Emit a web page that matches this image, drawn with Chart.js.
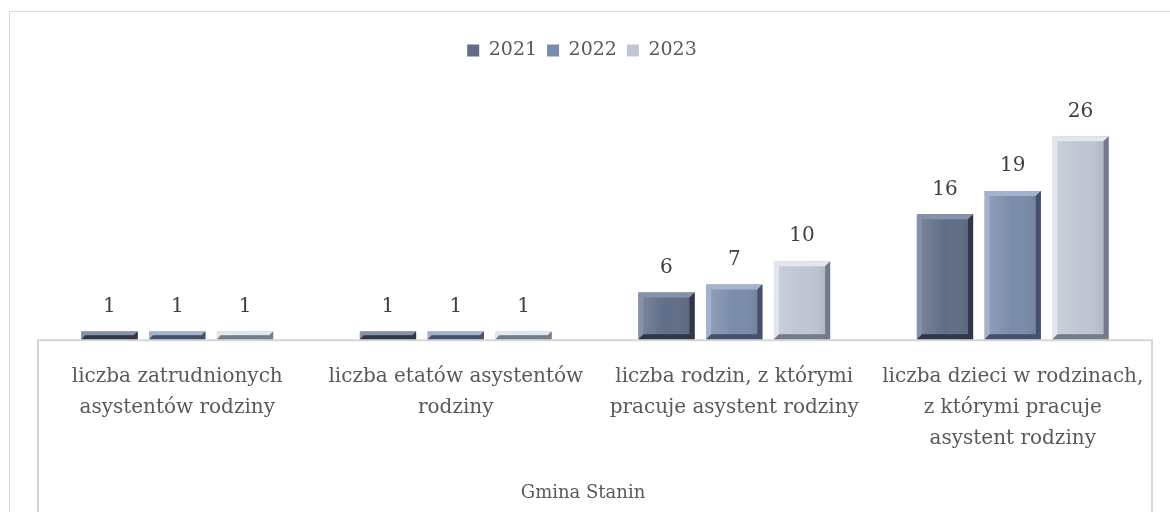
<!DOCTYPE html>
<html>
<head>
<meta charset="utf-8">
<script src="https://cdn.jsdelivr.net/npm/chart.js@4.4.1/dist/chart.umd.min.js"></script>
<style>
    html, body { margin: 0; padding: 0; background: #ffffff; }
    #wrap { width: 1170px; height: 512px; }
</style>
</head>
<body>
<div id="wrap"><canvas id="chart" width="1170" height="512"></canvas></div>
<script>

/* =========================
   DATA
========================= */

const categories = [
    ["liczba zatrudnionych", "asystentów rodziny"],
    ["liczba etatów asystentów", "rodziny"],
    ["liczba rodzin, z którymi", "pracuje asystent rodziny"],
    ["liczba dzieci w rodzinach,", "z którymi pracuje", "asystent rodziny"]
];

const years = ["2021", "2022", "2023"];

const values2021 = [1, 1, 6, 16];
const values2022 = [1, 1, 7, 19];
const values2023 = [1, 1, 10, 26];

const groupTitle = "Gmina Stanin";

/* =========================
   STYLE
========================= */

const FONT = "'DejaVu Serif', 'Liberation Serif', serif";
const TEXT = "#595959";

const barColors = ["#5f6d87", "#7a8cab", "#c0c6d3"];
const lightEdge = ["#8592aa", "#a3b3cf", "#e2e6ee"];
const darkEdge = ["#2f3746", "#45506a", "#727a8b"];

/* =========================
   PLUGINS
========================= */

const framePlugin = {
    id: "frame",
    beforeDraw(chart) {
        const { ctx, chartArea, width, height } = chart;
        ctx.save();
        ctx.strokeStyle = "#d9d9d9";
        ctx.lineWidth = 1;
        ctx.beginPath();
        ctx.moveTo(9.5, height);
        ctx.lineTo(9.5, 11.5);
        ctx.lineTo(width, 11.5);
        ctx.stroke();

        ctx.lineWidth = 2;
        ctx.strokeStyle = "#d6d6d6";
        ctx.beginPath();
        ctx.moveTo(chartArea.left, height);
        ctx.lineTo(chartArea.left, chartArea.bottom + 1);
        ctx.lineTo(chartArea.right, chartArea.bottom + 1);
        ctx.lineTo(chartArea.right, height);
        ctx.stroke();
        ctx.restore();
    }
};

// legend in the picture is centred on the full width, shift it a bit left
const legendShiftPlugin = {
    id: "legendShift",
    afterLayout(chart) {
        if (!chart.legend) return;
        chart.legend.left -= 13;
        chart.legend.right -= 13;
    }
};

const bevelPlugin = {
    id: "bevel",
    afterDatasetsDraw(chart) {
        const ctx = chart.ctx;
        ctx.save();
        chart.data.datasets.forEach((ds, di) => {
            const meta = chart.getDatasetMeta(di);
            meta.data.forEach(bar => {
                const l = bar.x - bar.width / 2;
                const r = bar.x + bar.width / 2;
                const t = bar.y;
                const b = bar.base;
                const h = b - t;
                const e = Math.min(5, h / 2);

                const g = ctx.createLinearGradient(l, 0, r, 0);
                g.addColorStop(0, "rgba(255,255,255,0.18)");
                g.addColorStop(0.5, "rgba(255,255,255,0)");
                g.addColorStop(1, "rgba(0,0,0,0.12)");
                ctx.fillStyle = g;
                ctx.fillRect(l, t, r - l, h);

                // top
                ctx.fillStyle = lightEdge[di];
                ctx.beginPath();
                ctx.moveTo(l, t); ctx.lineTo(r, t);
                ctx.lineTo(r - e, t + e); ctx.lineTo(l + e, t + e);
                ctx.closePath(); ctx.fill();

                // left
                ctx.beginPath();
                ctx.moveTo(l, t); ctx.lineTo(l + e, t + e);
                ctx.lineTo(l + e, b - e); ctx.lineTo(l, b);
                ctx.closePath(); ctx.fill();

                // right
                ctx.fillStyle = darkEdge[di];
                ctx.beginPath();
                ctx.moveTo(r, t); ctx.lineTo(r - e, t + e);
                ctx.lineTo(r - e, b - e); ctx.lineTo(r, b);
                ctx.closePath(); ctx.fill();

                // bottom
                ctx.beginPath();
                ctx.moveTo(l, b); ctx.lineTo(l + e, b - e);
                ctx.lineTo(r - e, b - e); ctx.lineTo(r, b);
                ctx.closePath(); ctx.fill();
            });
        });
        ctx.restore();
    }
};

const labelPlugin = {
    id: "barLabels",
    afterDatasetsDraw(chart) {
        const ctx = chart.ctx;
        ctx.save();
        ctx.font = "20px " + FONT;
        ctx.fillStyle = "#404040";
        ctx.textAlign = "center";
        ctx.textBaseline = "middle";
        chart.data.datasets.forEach((ds, di) => {
            chart.getDatasetMeta(di).data.forEach((bar, i) => {
                ctx.fillText(ds.data[i], bar.x, bar.y - 25);
            });
        });
        ctx.restore();
    }
};

// group title sits centred on the whole picture, not on the axis
const groupTitlePlugin = {
    id: "groupTitle",
    afterDraw(chart) {
        const ctx = chart.ctx;
        ctx.save();
        ctx.font = "18px " + FONT;
        ctx.fillStyle = TEXT;
        ctx.textAlign = "center";
        ctx.textBaseline = "middle";
        ctx.fillText(groupTitle, chart.width / 2 - 2, chart.height - 19);
        ctx.restore();
    }
};

/* =========================
   CHART
========================= */

const seriesValues = [values2021, values2022, values2023];

new Chart(document.getElementById("chart"), {

    type: "bar",

    data: {
        labels: categories,
        datasets: years.map((y, i) => ({
            label: y,
            data: seriesValues[i],
            backgroundColor: barColors[i],
            borderWidth: 0,
            categoryPercentage: 0.73,
            barPercentage: 0.83
        }))
    },

    options: {
        responsive: false,
        animation: false,
        layout: {
            padding: { left: 38, right: 18, top: 31, bottom: 0 }
        },
        plugins: {
            tooltip: { enabled: false },
            legend: {
                position: "top",
                labels: {
                    boxWidth: 12,
                    boxHeight: 12,
                    padding: 10,
                    color: TEXT,
                    font: { family: FONT, size: 19 }
                }
            }
        },
        scales: {
            x: {
                grid: { display: false, drawTicks: false },
                border: { display: false },
                ticks: {
                    padding: 22,
                    color: TEXT,
                    font: { family: FONT, size: 20, lineHeight: "31px" },
                    maxRotation: 0,
                    autoSkip: false
                },
                title: {
                    display: true,
                    text: groupTitle,
                    color: "rgba(0,0,0,0)",
                    font: { family: FONT, size: 19 },
                    padding: { top: 7, bottom: 6 }
                }
            },
            y: {
                display: false,
                min: 0,
                max: 34.5
            }
        }
    },

    plugins: [framePlugin, legendShiftPlugin, bevelPlugin, labelPlugin, groupTitlePlugin]
});

</script>
</body>
</html>
